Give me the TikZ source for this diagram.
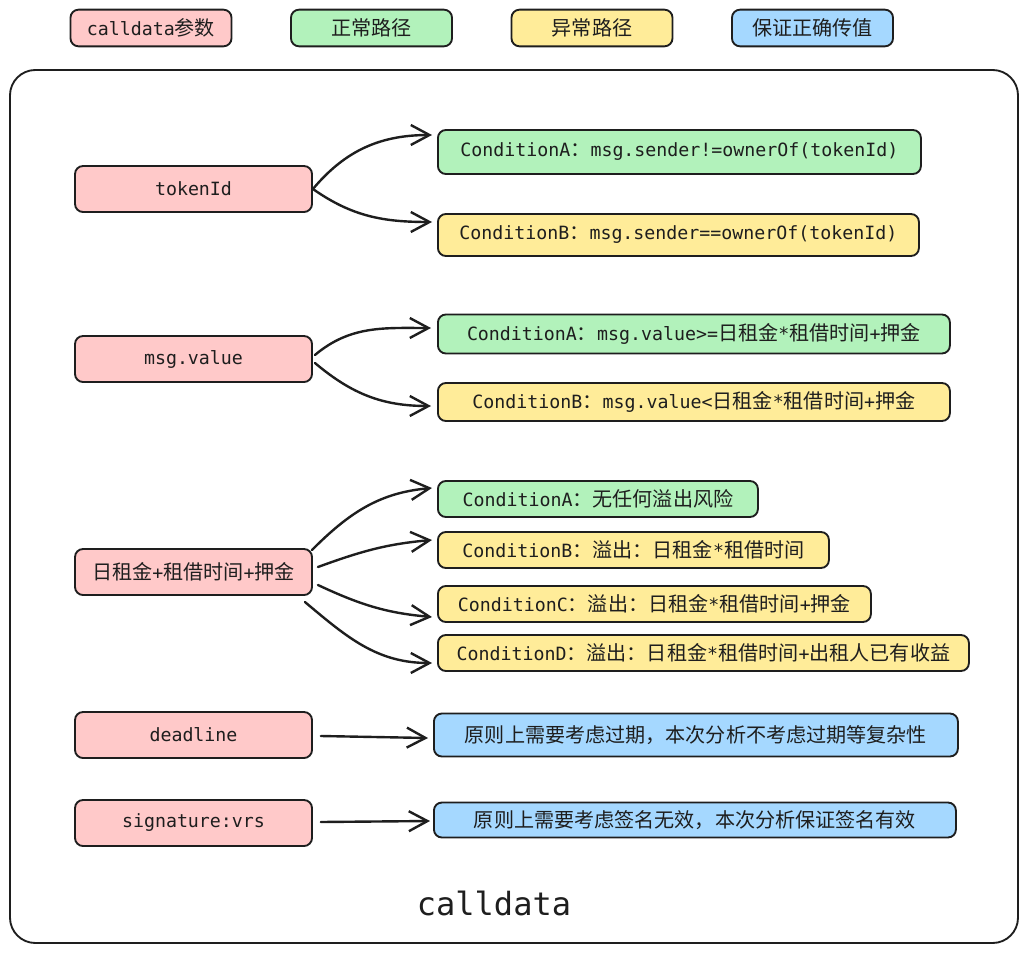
\documentclass[tikz,border=0pt]{standalone}
\usepackage{fontspec}
\setmonofont{DejaVu Sans Mono}
\newfontfamily\cjk[Scale=1.1]{Noto Sans CJK SC}
\newcommand{\zh}[1]{{\cjk #1}}
\usetikzlibrary{arrows.meta, positioning}

\definecolor{ink}{HTML}{1E1E1E}
\definecolor{pinkfill}{HTML}{FFC9C9}
\definecolor{greenfill}{HTML}{B2F2BB}
\definecolor{yellowfill}{HTML}{FFEC99}
\definecolor{bluefill}{HTML}{A5D8FF}

\begin{document}
\begin{tikzpicture}[x=0.75pt, y=0.75pt,
		font=\ttfamily\fontsize{13.7}{16}\selectfont, text=ink,
		box/.style={draw=ink, line width=1.4pt, rounded corners=6pt, inner sep=2pt},
		param/.style={box, fill=pinkfill, minimum width=177.75pt, minimum height=34.5pt},
		okbox/.style={box, fill=greenfill, anchor=west},
		badbox/.style={box, fill=yellowfill, anchor=west},
		fixbox/.style={box, fill=bluefill, anchor=west},
		arr/.style={draw=ink, line width=1.8pt, line cap=round, line join=round,
			-{Straight Barb[length=14pt,width=15pt,line width=1.8pt]}}]
	\useasboundingbox (0,0) rectangle (1028,-953);
	
	% legend
	\foreach \t/\c [count=\i] in {calldata\zh{参数}/pinkfill, \zh{正常路径}/greenfill,
		\zh{异常路径}/yellowfill, \zh{保证正确传值}/bluefill} {
		\node[box, fill=\c, minimum width=120.75pt, minimum height=27.5pt] (key\i) at (151+\i*220.5-220.5,-28) {\t};
	};
	
	% outer frame
	\draw[ink, line width=1.4pt, rounded corners=19pt] (10,-70) rectangle (1018,-943);
	\node[font=\ttfamily\fontsize{24}{28}\selectfont] (title) at (494,-903) {calldata};
	
	% parameters
	\node[param] (token) at (193.5,-189) {tokenId};
	\node[param] (value) at (193.5,-359) {msg.value};
	\node[param] (rent) at (193.5,-572) {\zh{日租金}+\zh{租借时间}+\zh{押金}};
	\node[param] (ddl) at (193.5,-735) {deadline};
	\node[param] (sig) at (193.5,-823) {signature:vrs};
	
	% conditions
	\node[okbox, minimum width=362.25pt, minimum height=33pt] (a1) at (437,-152)
		{ConditionA\zh{：}msg.sender!=ownerOf(tokenId)};
	\node[badbox, minimum width=360.75pt, minimum height=31.5pt] (b1) at (437,-235)
		{ConditionB\zh{：}msg.sender==ownerOf(tokenId)};
	\node[okbox, minimum width=384pt, minimum height=29.25pt] (a2) at (437,-334)
		{ConditionA\zh{：}msg.value>=\zh{日租金}*\zh{租借时间}+\zh{押金}};
	\node[badbox, minimum width=384pt, minimum height=28.5pt] (b2) at (437,-402)
		{ConditionB\zh{：}msg.value<\zh{日租金}*\zh{租借时间}+\zh{押金}};
	\node[okbox, minimum width=240pt, minimum height=27pt] (a3) at (437,-499)
		{ConditionA\zh{：无任何溢出风险}};
	\node[badbox, minimum width=293.25pt, minimum height=27pt] (b3) at (437,-550)
		{ConditionB\zh{：溢出：日租金}*\zh{租借时间}};
	\node[badbox, minimum width=324.75pt, minimum height=27pt] (c3) at (437,-604)
		{ConditionC\zh{：溢出：日租金}*\zh{租借时间}+\zh{押金}};
	\node[badbox, minimum width=398.25pt, minimum height=27pt] (d3) at (437,-653)
		{ConditionD\zh{：溢出：日租金}*\zh{租借时间}+\zh{出租人已有收益}};
	\node[fixbox, minimum width=393pt, minimum height=32.25pt] (e1) at (433,-735)
		{\zh{原则上需要考虑过期，本次分析不考虑过期等复杂性}};
	\node[fixbox, minimum width=391.5pt, minimum height=26.25pt] (e2) at (433,-820)
		{\zh{原则上需要考虑签名无效，本次分析保证签名有效}};
	
	% arrows
	\draw[arr] (token.east) to[out=50,in=180] ([shift={(-5,17)}]a1.west);
	\draw[arr] (token.east) to[out=-35,in=180] ([shift={(-5,13)}]b1.west);
	
	\draw[arr] ([shift={(2,4)}]value.east) to[out=40,in=180] ([shift={(-6,6)}]a2.west);
	\draw[arr] ([shift={(2,-4)}]value.east) to[out=-40,in=180] ([shift={(-6,-4)}]b2.west);
	
	\draw[arr] ([shift={(-1,22)}]rent.east) to[out=45,in=185] ([shift={(-5,11)}]a3.west);
	\draw[arr] ([shift={(5,5)}]rent.east) to[out=20,in=185] ([shift={(-5,10)}]b3.west);
	\draw[arr] ([shift={(5,-13)}]rent.east) to[out=-25,in=175] ([shift={(-5,-13)}]c3.west);
	\draw[arr] ([shift={(-8,-30)}]rent.east) to[out=-40,in=180] ([shift={(-5,-10)}]d3.west);
	
	\draw[arr] ([shift={(8,-1)}]ddl.east) -- ([shift={(-5,-3)}]e1.west);
	\draw[arr] ([shift={(8,1)}]sig.east) -- ([shift={(-3,-1)}]e2.west);
\end{tikzpicture}
\end{document}
